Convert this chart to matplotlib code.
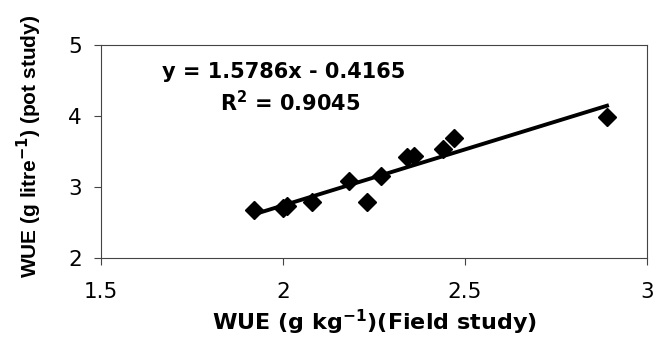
import numpy as np
import matplotlib.pyplot as plt

plt.rcParams['font.family'] = ['DejaVu Sans']
plt.rcParams['mathtext.fontset'] = 'custom'
plt.rcParams['mathtext.rm'] = 'DejaVu Sans'
plt.rcParams['mathtext.bf'] = 'DejaVu Sans:bold'

# WUE field study (g kg-1) vs pot study (g litre-1)
wue_field = [1.92, 2.00, 2.01, 2.08, 2.18, 2.23, 2.27, 2.34, 2.36, 2.44, 2.47, 2.89]
wue_pot = [2.68, 2.71, 2.73, 2.79, 3.08, 2.79, 3.16, 3.43, 3.44, 3.53, 3.69, 3.99]
slope = 1.5786
intercept = -0.4165
r_squared = 0.9045

fig = plt.figure(figsize=(6.65, 3.39), dpi=100)
ax = fig.add_axes([0.152, 0.239, 0.821, 0.628])

x_fit = np.array([min(wue_field), max(wue_field)])
ax.plot(x_fit, slope * x_fit + intercept, color='black', lw=2.8, zorder=2)
ax.plot(wue_field, wue_pot, 'D', color='black', ms=9, zorder=3)

ax.set_xlim(1.5, 3)
ax.set_ylim(2, 5)
ax.set_xticks([1.5, 2, 2.5, 3])
ax.set_xticklabels(['1.5', '2', '2.5', '3'])
ax.set_yticks([2, 3, 4, 5])
ax.tick_params(labelsize=15.5, length=5, width=0.8, color='#444444')
ax.tick_params(axis='x', pad=12)
ax.tick_params(axis='y', pad=9)
for s in ax.spines.values():
    s.set_color('#444444')
    s.set_linewidth(0.8)

ax.set_xlabel(r"WUE (g kg$^{\mathbf{-1}}$)(Field study)", fontsize=16,
              fontweight='bold')
ax.xaxis.set_label_coords(0.5, -0.235)
ax.set_ylabel(r"WUE (g litre$^{\mathbf{-1}}$) (pot study)",
              family='Liberation Sans', fontsize=15, fontweight='bold')
ax.yaxis.set_label_coords(-0.105, 0.523)

ax.text(0.335, 0.873, f"y = {slope}x - {abs(intercept)}", transform=ax.transAxes,
        ha='center', va='center', fontsize=15, fontweight='bold')
ax.text(0.347, 0.728, r"R$^{\mathbf{2}}$" + f" = {r_squared}", transform=ax.transAxes,
        ha='center', va='center', fontsize=15, fontweight='bold')

fig.savefig('out.png', dpi=100)
